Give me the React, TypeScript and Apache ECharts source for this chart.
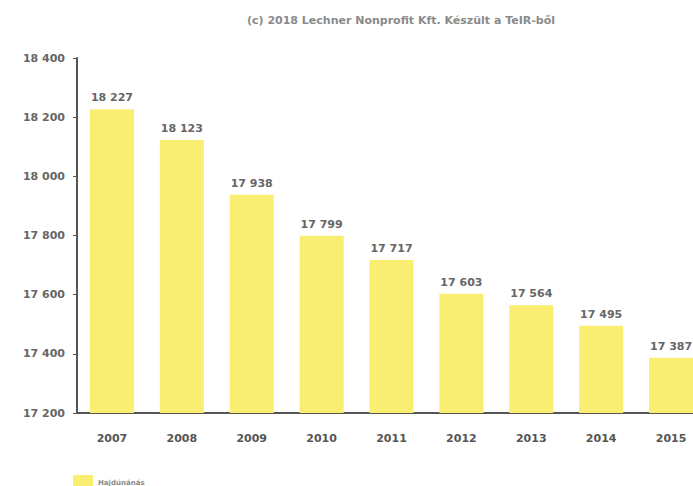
import React, { useEffect, useRef } from "react";
import * as echarts from "echarts";

const years = ["2007", "2008", "2009", "2010", "2011", "2012", "2013", "2014", "2015"];
const population = [18227, 18123, 17938, 17799, 17717, 17603, 17564, 17495, 17387];
const seriesName = "Hajdúnánás";
const titleText = "(c) 2018 Lechner Nonprofit Kft. Készült a TeIR-ből";

const fmt = (v: number) => {
  const s = String(Math.round(v));
  return s.replace(/\B(?=(\d{3})+(?!\d))/g, " ");
};

export default function App() {
  const ref = useRef<HTMLDivElement>(null);
  useEffect(() => {
    if (!ref.current) return;
    const chart = echarts.init(ref.current, undefined, { renderer: "svg" });
    const font = "'DejaVu Sans', sans-serif";
    chart.setOption({
      animation: false,
      backgroundColor: "#ffffff",
      title: {
        text: titleText,
        left: 396,
        textAlign: "center",
        top: 10,
        textStyle: { fontSize: 11, fontWeight: "bold", color: "#8a8a8a", fontFamily: font },
      },
      legend: {
        left: 68,
        top: 470,
        itemWidth: 20,
        itemHeight: 16,
        itemGap: 7,
        textStyle: { fontSize: 7, color: "#8a8a8a", fontFamily: font, fontWeight: "bold" },
        data: [{ name: seriesName, icon: "rect" }],
      },
      grid: {
        left: 77,
        top: 58,
        height: 355,
        width: 629,
        containLabel: false,
        outerBoundsMode: "none",
      },
      xAxis: {
        type: "category",
        data: years,
        axisLine: { lineStyle: { color: "#555555", width: 2 } },
        axisTick: { alignWithLabel: true, length: 4, lineStyle: { color: "#555555" } },
        axisLabel: { margin: 20, fontSize: 11, fontWeight: "bold", color: "#555555", fontFamily: font },
      },
      yAxis: {
        type: "value",
        min: 17200,
        max: 18400,
        interval: 200,
        axisLine: { show: true, lineStyle: { color: "#555555", width: 2 } },
        axisTick: { show: true, length: 4, lineStyle: { color: "#555555" } },
        splitLine: { show: false },
        axisLabel: {
          margin: 12,
          fontSize: 11,
          fontWeight: "bold",
          color: "#666666",
          fontFamily: font,
          formatter: (v: number) => fmt(v),
        },
      },
      series: [
        {
          name: seriesName,
          type: "bar",
          data: population,
          barWidth: "63%",
          itemStyle: { color: "#f9ee72" },
          label: {
            show: true,
            position: "top",
            distance: 6,
            fontSize: 11,
            fontWeight: "bold",
            color: "#666666",
            fontFamily: font,
            formatter: (p: any) => fmt(p.value),
          },
        },
      ],
    });
    return () => chart.dispose();
  }, []);
  return (
    <div
      ref={ref}
      style={{ position: "absolute", left: 0, top: 0, width: 693, height: 486, overflow: "hidden" }}
    />
  );
}
